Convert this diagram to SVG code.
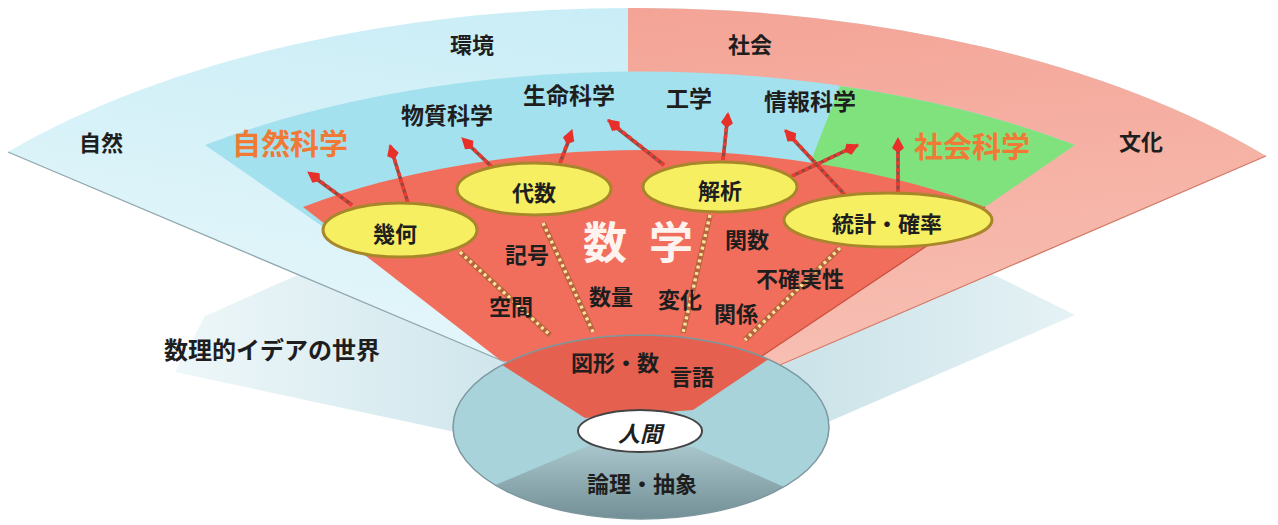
<svg xmlns="http://www.w3.org/2000/svg" width="1278" height="525" viewBox="0 0 1278 525">
<defs>
<style>
text{font-family:"Noto Sans CJK JP","Noto Sans CJK SC",sans-serif;font-weight:700;fill:#1e1e1e;text-anchor:middle;dominant-baseline:central}
.t22{font-size:22px}
.sci{font-size:23px}
.big{font-size:29px;fill:#f07a35}
.ell{fill:#f6ef62;stroke:#a8862a;stroke-width:3}
.shaft{fill:none;stroke:#8c4a44;stroke-width:3.5}
.shaftd{fill:none;stroke:#ef3b2e;stroke-width:3.5;stroke-dasharray:4 3}
.dots{fill:none;stroke:#b8623f;stroke-width:5.5}
.dotsy{fill:none;stroke:#f7e39a;stroke-width:3.4;stroke-dasharray:3 3.5}
</style>
<marker id="ah" viewBox="-3 -7 18 14" markerWidth="18" markerHeight="14" refX="13" refY="0" orient="auto" markerUnits="userSpaceOnUse">
<path d="M-2 0 L3 -6 L14 0 L3 6 Z" fill="#e8302a"/>
</marker>
<linearGradient id="gOuter" x1="0.7" y1="0" x2="0.2" y2="1">
<stop offset="0" stop-color="#c6ecf6"/>
<stop offset="1" stop-color="#eaf8fb"/>
</linearGradient>
<linearGradient id="gPink" x1="0.3" y1="0" x2="0.6" y2="1">
<stop offset="0" stop-color="#f3a294"/>
<stop offset="1" stop-color="#f8c2b6"/>
</linearGradient>
<linearGradient id="gDark" x1="0" y1="0" x2="0" y2="1">
<stop offset="0" stop-color="#a8c6cc"/>
<stop offset="1" stop-color="#557179"/>
</linearGradient>
<linearGradient id="gPaleL" x1="0" y1="0" x2="1" y2="0">
<stop offset="0" stop-color="#eef7f9"/>
<stop offset="1" stop-color="#cfe6ec"/>
</linearGradient>
<linearGradient id="gPaleR" x1="1" y1="0" x2="0" y2="0">
<stop offset="0" stop-color="#e6f2f5"/>
<stop offset="1" stop-color="#c9e2e8"/>
</linearGradient>
<clipPath id="rightHalf"><rect x="628" y="0" width="650" height="525"/></clipPath>
<clipPath id="diskClip"><ellipse cx="641" cy="427" rx="188" ry="92"/></clipPath>
</defs>
<rect width="1278" height="525" fill="#ffffff"/>

<g id="plane">
<path d="M300,274 L205,316 L175,372 L455,432 L505,362 Z" fill="url(#gPaleL)"/>
<path d="M990,273 L1075,315 L828,422 L780,366 Z" fill="url(#gPaleR)"/>
</g>

<g id="outer-band">
<path d="M8,152 A825 414 0 0 1 1266,156 L780,365 L640,420 L505,362 Z" fill="url(#gOuter)"/>
<path d="M8,152 A825 414 0 0 1 1266,156 L780,365 L640,420 L505,362 Z" fill="url(#gPink)" clip-path="url(#rightHalf)"/>
<line x1="8" y1="152" x2="505" y2="362" stroke="#8fa7ae" stroke-width="1.3"/>
<line x1="1266" y1="156" x2="780" y2="365" stroke="#d47a68" stroke-width="1.3"/>
</g>

<g id="inner-band">
<path d="M205,145 A710 350 0 0 1 1075,145 L762,356 L640,400 L505,353 Z" fill="#a4e1ef"/>
<path d="M840,86 A710 350 0 0 1 1075,145 L985,207 L790,215 Z" fill="#80e27c"/>
</g>

<g id="math-sector">
<path d="M303,207 A557 272 0 0 1 985,207 L762,356 L640,400 L500,360 Z" fill="#f26e5c"/>
<line x1="985" y1="207" x2="762" y2="356" stroke="#c9503f" stroke-width="1.3"/>
</g>

<g id="disk">
<ellipse cx="641" cy="427" rx="188" ry="92" fill="#a8d3db"/>
<g clip-path="url(#diskClip)">
<polygon points="585,418 460,338 640,240 800,338 693,410" fill="#e5604f"/>
<polygon points="590,445 460,500 470,560 820,560 830,507 693,447" fill="url(#gDark)"/>
</g>
<ellipse cx="641" cy="427" rx="188" ry="92" fill="none" stroke="#7d979e" stroke-width="1.5"/>
</g>

<g id="connectors">
<path class="dots" d="M460,252 L550,335"/>
<path class="dotsy" d="M460,252 L550,335"/>
<path class="dots" d="M543,223 L593,332"/>
<path class="dotsy" d="M543,223 L593,332"/>
<path class="dots" d="M710,215 L683,333"/>
<path class="dotsy" d="M710,215 L683,333"/>
<path class="dots" d="M840,248 L745,340"/>
<path class="dotsy" d="M840,248 L745,340"/>

<path class="shaft" d="M352,205 L318,180"/>
<path class="shaftd" d="M352,205 L308,172" marker-end="url(#ah)"/>
<path class="shaft" d="M408,203 L393,155"/>
<path class="shaftd" d="M408,203 L390,145" marker-end="url(#ah)"/>
<path class="shaft" d="M492,167 L470,146"/>
<path class="shaftd" d="M492,167 L462,138" marker-end="url(#ah)"/>
<path class="shaft" d="M560,163 L569,140"/>
<path class="shaftd" d="M560,163 L572,130" marker-end="url(#ah)"/>
<path class="shaft" d="M664,165 L617,128"/>
<path class="shaftd" d="M664,165 L608,120" marker-end="url(#ah)"/>
<path class="shaft" d="M723,160 L727,123"/>
<path class="shaftd" d="M723,160 L728,113" marker-end="url(#ah)"/>
<path class="shaft" d="M845,195 L792,138"/>
<path class="shaftd" d="M845,195 L785,130" marker-end="url(#ah)"/>
<path class="shaft" d="M898,193 L898,148"/>
<path class="shaftd" d="M898,193 L898,138" marker-end="url(#ah)"/>
<path class="shaft" d="M792,176 L849,149"/>
<path class="shaftd" d="M792,176 L858,145" marker-end="url(#ah)"/>
</g>

<g id="node-kika"><ellipse class="ell" cx="400" cy="230" rx="77" ry="27"/><text class="t22" x="395" y="232">幾何</text></g>
<g id="node-daisu"><ellipse class="ell" cx="534" cy="189" rx="77" ry="26"/><text class="t22" x="534" y="191">代数</text></g>
<g id="node-kaiseki"><ellipse class="ell" cx="720" cy="187" rx="77" ry="25"/><text class="t22" x="720" y="189">解析</text></g>
<g id="node-toukei"><ellipse class="ell" cx="888" cy="220" rx="104" ry="27"/><text class="t22" x="887" y="222">統計・確率</text></g>
<g id="node-ningen"><ellipse cx="640" cy="431" rx="62" ry="21" fill="#ffffff" stroke="#444" stroke-width="2"/><text class="t22" x="640" y="432" font-style="italic">人間</text></g>

<g id="labels">
<text class="t22" x="472" y="43">環境</text>
<text class="t22" x="750" y="43">社会</text>
<text class="t22" x="101" y="141">自然</text>
<text class="t22" x="1141" y="140">文化</text>
<text class="big" x="290" y="142">自然科学</text>
<text class="big" x="972" y="145">社会科学</text>
<text class="sci" x="447" y="114">物質科学</text>
<text class="sci" x="569" y="94">生命科学</text>
<text class="sci" x="689" y="97">工学</text>
<text class="sci" x="810" y="100">情報科学</text>
<text x="583" y="240" style="font-size:44px;fill:#fff3f0;text-anchor:start;letter-spacing:22px">数学</text>
<text class="t22" x="527" y="253">記号</text>
<text class="t22" x="511" y="305">空間</text>
<text class="t22" x="611" y="295">数量</text>
<text class="t22" x="680" y="298">変化</text>
<text class="t22" x="747" y="238">関数</text>
<text class="t22" x="800" y="277">不確実性</text>
<text class="t22" x="736" y="312">関係</text>
<text class="t22" x="615" y="361">図形・数</text>
<text class="t22" x="692" y="375">言語</text>
<text class="t22" x="642" y="482">論理・抽象</text>
<text x="272" y="348" style="font-size:24px">数理的イデアの世界</text>
</g>
</svg>
